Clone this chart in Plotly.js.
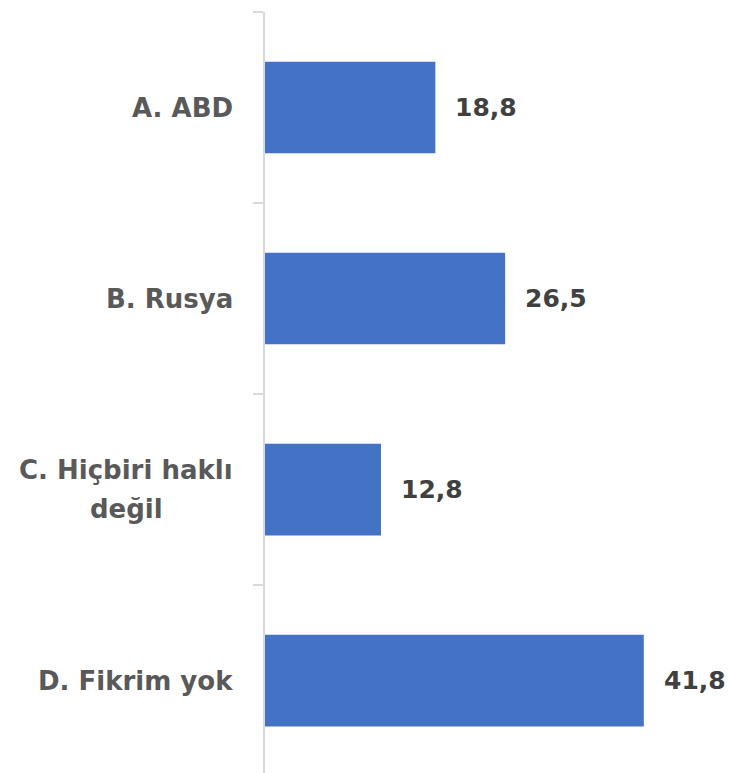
<!DOCTYPE html>
<html>
<head>
<meta charset="utf-8">
<script src="https://cdn.plot.ly/plotly-3.0.1.min.js"></script>
<style>html,body{margin:0;padding:0;background:#fff;}#chart{width:729px;height:773px;}</style>
</head>
<body>
<div id="chart"></div>
<script>
const categories = ["A. ABD", "B. Rusya", "C. Hiçbiri haklı<br>değil", "D. Fikrim yok"];
const values = [18.8, 26.5, 12.8, 41.8];

const labelFont = {family: "DejaVu Sans", size: 26, color: "#595959", weight: "bold"};
const valueFont = {family: "DejaVu Sans", size: 25, color: "#404040", weight: "bold"};

const trace = {
  type: "bar",
  orientation: "h",
  x: values,
  y: categories,
  width: 0.48,
  marker: {color: "#4472C4"},
  hoverinfo: "none"
};

const annotations = [];
categories.forEach((c, i) => {
  const lines = c.split("<br>");
  const gap = 39;
  lines.forEach((ln, j) => {
    annotations.push({
      xref: "paper", yref: "y", x: 0, y: c,
      xanchor: "right", yanchor: "middle", xshift: -30,
      yshift: ((lines.length - 1) / 2 - j) * gap,
      text: ln, showarrow: false, align: "center",
      font: labelFont
    });
  });
  annotations.push({
    xref: "x", yref: "y", x: values[i], y: c,
    xanchor: "left", yanchor: "middle", xshift: 18,
    text: values[i].toFixed(1).replace(".", ","), showarrow: false,
    font: valueFont
  });
});
// center the second line of multi-line labels under the first
annotations.forEach(a => {});

const layout = {
  width: 729, height: 773,
  margin: {l: 265, r: 0, t: 12, b: 0},
  paper_bgcolor: "#ffffff", plot_bgcolor: "#ffffff",
  showlegend: false,
  xaxis: {range: [0, 51.2], visible: false, fixedrange: true},
  yaxis: {
    type: "category", range: [3.484, -0.5],
    tickson: "boundaries", ticks: "outside", ticklen: 10,
    tickcolor: "#d9d9d9", tickwidth: 1.5,
    showline: true, linecolor: "#d9d9d9", linewidth: 2,
    showgrid: false, zeroline: false, showticklabels: false
  },
  annotations: annotations
};

Plotly.newPlot("chart", [trace], layout, {displayModeBar: false, staticPlot: true}).then(gd => {
  // center multi-line labels: second line centered under first line
  const anns = gd.layout.annotations;
  const nodes = gd.querySelectorAll(".annotation");
  // find label pairs for multi-line category
  categories.forEach(c => {
    const lines = c.split("<br>");
    if (lines.length < 2) return;
    const idx = [];
    anns.forEach((a, k) => { if (a.y === c && a.xref === "paper") idx.push(k); });
    const widths = idx.map(k => nodes[k].querySelector("text").getBBox().width);
    const maxW = Math.max(...widths);
    const upd = {};
    idx.forEach((k, m) => { upd["annotations[" + k + "].xshift"] = -30 - (maxW - widths[m]) / 2; });
    Plotly.relayout(gd, upd);
  });
});
</script>
</body>
</html>
